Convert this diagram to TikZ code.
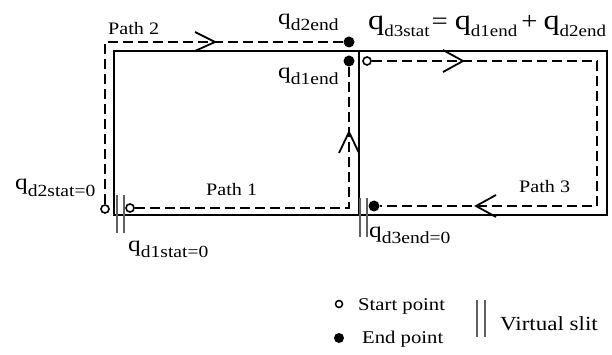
\documentclass[tikz,border=0pt]{standalone}
\usepackage{fontspec}
\setmainfont{Liberation Serif}[FakeStretch=1.15]
\newcommand{\qsub}[1]{{\fontsize{22}{22}\selectfont q}\raisebox{-6pt}{\fontsize{17}{17}\selectfont #1}}
\newcommand{\qbig}[1]{{\fontsize{28}{28}\selectfont q}\raisebox{-7pt}{\fontsize{16.5}{17}\selectfont #1}}
\newcommand{\bigop}[3]{\hspace{#2}{\fontsize{25}{25}\selectfont #1}\hspace{#3}}
\begin{document}
\begin{tikzpicture}[x=1pt,y=-1pt,
  wall/.style={line width=2.4pt,black},
  pathline/.style={line width=1.8pt,dash pattern=on 10pt off 5pt,black},
  chev/.style={line width=1.8pt,black,line join=miter},
  slitline/.style={line width=2pt,gray!75!black},
  startpt/.style={circle,draw=black,line width=1.6pt,fill=white,minimum size=8pt,inner sep=0pt},
  endpt/.style={circle,fill=black,minimum size=11pt,inner sep=0pt},
  lbl/.style={anchor=base west,inner sep=0pt,font=\fontsize{17.5}{18}\selectfont},
  qlbl/.style={anchor=base west,inner sep=0pt}
]
\useasboundingbox (0,0) rectangle (612,355);
% walls
\draw[wall] (114,51) rectangle (607,215);
\draw[wall] (359,51) -- (359,215);
% points
\node[startpt] (s1) at (130,208) {};
\node[startpt] (s2) at (105,209) {};
\node[startpt] (s3) at (367,61) {};
\node[endpt] (e1) at (349,61) {};
\node[endpt] (e2) at (349,42) {};
\node[endpt] (e3) at (374,206) {};
\coordinate (c1) at (349,208);
\coordinate (c2) at (105,42);
\coordinate (c3a) at (597,61);
\coordinate (c3b) at (597,206);
% paths
\draw[pathline] (s1) -- (c1) -- (e1);
\draw[pathline] (s2) -- (c2) -- (e2);
\draw[pathline] (s3) -- (c3a) -- (c3b) -- (e3);
% chevrons
\draw[chev] (195,32) -- (215,42) -- (195,51);
\draw[chev] (339,153) -- (349,132) -- (359,153);
\draw[chev] (443,50) -- (463,61) -- (443,72);
\draw[chev] (496,195) -- (476,206) -- (496,217);
% virtual slits
\draw[slitline] (117,195) -- (117,233);
\draw[slitline] (124,195) -- (124,233);
\draw[slitline] (360,198) -- (360,237);
\draw[slitline] (367,198) -- (367,237);
% labels
\node[lbl] (lp2) at (108,35) {Path 2};
\node[lbl] (lp1) at (206,196) {Path 1};
\node[lbl] (lp3) at (519,193) {Path 3};
\node[qlbl] (q2e) at (278,25) {\qsub{d2end}};
\node[qlbl] (q1e) at (278,79) {\qsub{d1end}};
\node[qlbl] (q3s) at (368,30) {\qbig{d3stat}\bigop{=}{2pt}{7pt}\qbig{d1end}\bigop{+}{4pt}{6pt}\qbig{d2end}};
\node[qlbl] (q2s) at (15,190) {\qsub{d2stat=0}};
\node[qlbl] (q1s) at (128,251) {\qsub{d1stat=0}};
\node[qlbl] (q3e) at (369,237) {\qsub{d3end=0}};
% legend
\node[startpt,minimum size=7pt,line width=1.5pt] (ls) at (339,304) {};
\node[endpt,minimum size=10pt] (le) at (339,338) {};
\node[lbl,font=\fontsize{18}{18}\selectfont] (lst) at (358,310) {Start point};
\node[lbl,font=\fontsize{18}{18}\selectfont] (len) at (362,343) {End point};
\draw[slitline] (477,300) -- (477,337);
\draw[slitline] (485,300) -- (485,337);
\node[lbl,font=\fontsize{20}{20}\selectfont] (lvs) at (500,330) {Virtual slit};
\end{tikzpicture}
\end{document}
